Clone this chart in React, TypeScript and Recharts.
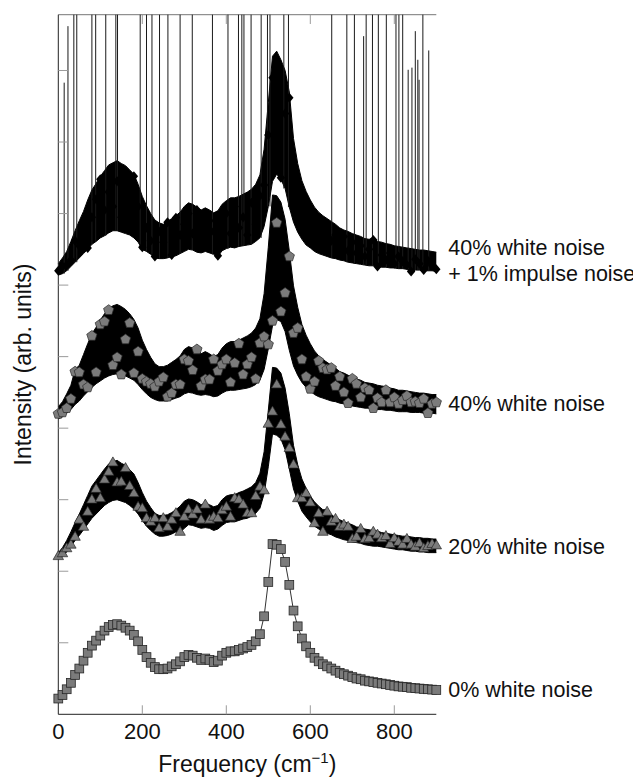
import React from "react";
import {
  ComposedChart,
  Area,
  Line,
  XAxis,
  YAxis,
  ReferenceLine,
  ReferenceDot,
} from "recharts";

// frequency grid (cm^-1)
const freq = [
  0, 10, 20, 30, 40, 50, 60, 70, 80, 90,
  100, 110, 120, 130, 140, 150, 160, 170, 180, 190,
  200, 210, 220, 230, 240, 250, 260, 270, 280, 290,
  300, 310, 320, 330, 340, 350, 360, 370, 380, 390,
  400, 410, 420, 430, 440, 450, 460, 470, 480, 490,
  500, 510, 520, 530, 540, 550, 560, 570, 580, 590,
  600, 610, 620, 630, 640, 650, 660, 670, 680, 690,
  700, 710, 720, 730, 740, 750, 760, 770, 780, 790,
  800, 810, 820, 830, 840, 850, 860, 870, 880, 890,
  900,
];

// 0% white noise spectrum
const clean = [
  0.22, 0.27, 0.35, 0.44, 0.55, 0.64, 0.75, 0.86, 0.96, 1.03,
  1.10, 1.17, 1.22, 1.25, 1.26, 1.24, 1.21, 1.17, 1.11, 1.02,
  0.90, 0.80, 0.72, 0.66, 0.63, 0.63, 0.64, 0.67, 0.70, 0.74,
  0.80, 0.83, 0.82, 0.79, 0.76, 0.78, 0.76, 0.73, 0.75, 0.82,
  0.86, 0.88, 0.88, 0.90, 0.92, 0.94, 0.97, 1.02, 1.12, 1.37,
  1.85, 2.38, 2.37, 2.31, 2.13, 1.81, 1.45, 1.23, 1.06, 0.95,
  0.86, 0.79, 0.74, 0.70, 0.67, 0.64, 0.61, 0.58, 0.56, 0.54,
  0.52, 0.50, 0.49, 0.47, 0.46, 0.45, 0.44, 0.43, 0.42, 0.41,
  0.40, 0.39, 0.385, 0.38, 0.37, 0.365, 0.36, 0.355, 0.35, 0.345,
  0.34,
];

// 20% white noise: envelope of the noisy trace and marked samples
const hi20 = [
  2.26, 2.33, 2.43, 2.55, 2.68, 2.80, 2.93, 3.06, 3.19, 3.27,
  3.35, 3.43, 3.50, 3.53, 3.55, 3.51, 3.48, 3.42, 3.36, 3.24,
  3.10, 2.98, 2.89, 2.81, 2.78, 2.78, 2.79, 2.82, 2.86, 2.91,
  2.98, 3.01, 3.00, 2.97, 2.93, 2.95, 2.93, 2.90, 2.92, 3.00,
  3.05, 3.07, 3.07, 3.10, 3.12, 3.15, 3.18, 3.24, 3.37, 3.67,
  4.25, 4.85, 4.84, 4.77, 4.56, 4.20, 3.76, 3.49, 3.29, 3.16,
  3.05, 2.97, 2.91, 2.86, 2.86, 2.79, 2.75, 2.72, 2.69, 2.67,
  2.65, 2.62, 2.61, 2.59, 2.58, 2.57, 2.56, 2.54, 2.53, 2.52,
  2.51, 2.50, 2.49, 2.49, 2.48, 2.47, 2.47, 2.46, 2.46, 2.45,
  2.45,
];
const lo20 = [
  2.19, 2.21, 2.27, 2.35, 2.43, 2.50, 2.58, 2.66, 2.74, 2.80,
  2.86, 2.92, 2.96, 2.99, 3.00, 2.98, 2.96, 2.92, 2.87, 2.80,
  2.71, 2.63, 2.57, 2.52, 2.49, 2.49, 2.50, 2.52, 2.55, 2.54,
  2.60, 2.65, 2.64, 2.62, 2.60, 2.61, 2.60, 2.57, 2.59, 2.64,
  2.68, 2.69, 2.69, 2.71, 2.73, 2.74, 2.77, 2.81, 2.88, 3.08,
  3.46, 3.92, 3.90, 3.85, 3.70, 3.43, 3.15, 2.98, 2.84, 2.76,
  2.69, 2.63, 2.59, 2.54, 2.53, 2.51, 2.48, 2.46, 2.44, 2.43,
  2.41, 2.40, 2.39, 2.37, 2.36, 2.35, 2.35, 2.34, 2.33, 2.32,
  2.31, 2.30, 2.30, 2.29, 2.28, 2.28, 2.27, 2.27, 2.26, 2.26,
  2.26,
];
const m20 = [
  2.21, 2.25, 2.32, 2.37, 2.48, 2.72, 2.62, 2.83, 3.00, 3.15,
  3.02, 3.28, 3.39, 3.52, 3.24, 3.25, 3.44, 3.19, 3.09, 2.90,
  2.88, 2.74, 2.69, 2.74, 2.60, 2.74, 2.62, 2.72, 2.81, 2.55,
  2.76, 2.86, 2.79, 2.86, 2.72, 2.93, 2.72, 2.76, 2.74, 2.85,
  2.90, 2.76, 3.02, 3.00, 2.93, 2.81, 2.81, 3.05, 3.18, 3.13,
  4.06, 4.23, 4.61, 4.05, 3.88, 3.72, 3.49, 3.02, 3.02, 3.09,
  2.96, 2.67, 2.81, 2.55, 2.83, 2.69, 2.73, 2.62, 2.65, 2.62,
  2.45, 2.48, 2.59, 2.45, 2.46, 2.55, 2.51, 2.46, 2.49, 2.38,
  2.46, 2.41, 2.37, 2.45, 2.37, 2.34, 2.39, 2.32, 2.35, 2.38,
  2.36,
];

// 40% white noise
const hi40 = [
  4.30, 4.37, 4.48, 4.60, 4.82, 4.88, 5.03, 5.18, 5.32, 5.41,
  5.51, 5.60, 5.67, 5.71, 5.73, 5.70, 5.66, 5.60, 5.52, 5.40,
  5.23, 5.10, 4.99, 4.90, 4.86, 4.86, 4.88, 4.92, 4.96, 5.01,
  5.10, 5.14, 5.12, 5.12, 5.04, 5.07, 5.04, 5.00, 5.03, 5.12,
  5.18, 5.21, 5.21, 5.23, 5.26, 5.29, 5.33, 5.40, 5.53, 5.88,
  6.53, 7.26, 7.25, 7.16, 6.92, 6.48, 5.99, 5.69, 5.45, 5.30,
  5.18, 5.08, 5.01, 4.96, 4.92, 4.88, 4.84, 4.79, 4.77, 4.74,
  4.71, 4.69, 4.67, 4.64, 4.63, 4.62, 4.60, 4.59, 4.58, 4.56,
  4.55, 4.53, 4.53, 4.52, 4.51, 4.50, 4.49, 4.49, 4.48, 4.47,
  4.47,
];
const lo40 = [
  4.13, 4.16, 4.21, 4.26, 4.33, 4.38, 4.45, 4.51, 4.57, 4.62,
  4.66, 4.70, 4.73, 4.75, 4.76, 4.74, 4.73, 4.70, 4.67, 4.61,
  4.54, 4.48, 4.43, 4.40, 4.38, 4.38, 4.38, 4.40, 4.42, 4.44,
  4.48, 4.50, 4.49, 4.47, 4.46, 4.47, 4.46, 4.44, 4.45, 4.49,
  4.52, 4.53, 4.53, 4.54, 4.55, 4.56, 4.58, 4.61, 4.67, 4.82,
  5.11, 5.43, 5.52, 5.49, 5.35, 5.09, 4.87, 4.74, 4.64, 4.57,
  4.52, 4.47, 4.44, 4.42, 4.40, 4.38, 4.37, 4.35, 4.34, 4.32,
  4.31, 4.30, 4.29, 4.28, 4.28, 4.27, 4.26, 4.26, 4.25, 4.25,
  4.24, 4.23, 4.23, 4.23, 4.22, 4.22, 4.22, 4.21, 4.21, 4.21,
  4.20,
];
const m40 = [
  4.20, 4.22, 4.28, 4.41, 4.79, 4.78, 4.61, 4.57, 5.29, 4.78,
  5.45, 5.49, 5.65, 4.88, 4.99, 4.75, 5.24, 5.47, 4.77, 5.07,
  4.69, 4.65, 4.62, 4.58, 4.65, 4.71, 4.44, 4.49, 4.61, 4.61,
  4.96, 4.94, 4.81, 5.10, 4.59, 4.68, 4.68, 4.96, 4.80, 4.89,
  4.96, 4.64, 4.91, 5.18, 4.75, 4.89, 4.99, 4.69, 5.19, 5.28,
  5.17, 5.50, 6.87, 5.63, 5.89, 6.40, 5.33, 5.40, 4.96, 4.72,
  4.55, 4.65, 4.94, 4.84, 4.82, 4.84, 4.59, 4.72, 4.50, 4.35,
  4.69, 4.62, 4.43, 4.56, 4.53, 4.28, 4.42, 4.36, 4.53, 4.36,
  4.43, 4.34, 4.39, 4.45, 4.36, 4.37, 4.35, 4.41, 4.21, 4.34,
  4.36,
];

// 40% white noise + 1% impulse noise
const hiImp = [
  6.30, 6.38, 6.47, 6.61, 6.76, 6.90, 7.03, 7.19, 7.33, 7.42,
  7.52, 7.60, 7.68, 7.71, 7.74, 7.70, 7.67, 7.61, 7.55, 7.41,
  7.24, 7.11, 7.00, 6.91, 6.87, 6.85, 6.89, 6.93, 6.97, 7.02,
  7.10, 7.15, 7.13, 7.09, 7.05, 7.08, 7.05, 7.01, 7.04, 7.13,
  7.18, 7.22, 7.22, 7.24, 7.27, 7.30, 7.34, 7.41, 7.54, 7.90,
  8.55, 9.20, 9.27, 9.15, 9.00, 8.70, 8.05, 7.70, 7.46, 7.31,
  7.19, 7.09, 7.02, 6.97, 6.93, 6.89, 6.85, 6.80, 6.77, 6.75,
  6.72, 6.70, 6.68, 6.65, 6.64, 6.66, 6.61, 6.60, 6.58, 6.57,
  6.55, 6.54, 6.53, 6.52, 6.51, 6.50, 6.49, 6.49, 6.48, 6.47,
  6.46,
];
const loImp = [
  6.14, 6.16, 6.20, 6.26, 6.32, 6.38, 6.44, 6.50, 6.57, 6.61,
  6.66, 6.69, 6.73, 6.76, 6.76, 6.74, 6.72, 6.70, 6.66, 6.60,
  6.50, 6.47, 6.43, 6.38, 6.37, 6.37, 6.38, 6.40, 6.41, 6.44,
  6.47, 6.50, 6.49, 6.46, 6.45, 6.47, 6.45, 6.43, 6.40, 6.48,
  6.51, 6.53, 6.52, 6.54, 6.55, 6.56, 6.57, 6.61, 6.66, 6.82,
  7.10, 7.45, 7.55, 7.48, 7.35, 7.09, 6.88, 6.74, 6.64, 6.56,
  6.52, 6.47, 6.44, 6.42, 6.40, 6.38, 6.37, 6.35, 6.34, 6.32,
  6.31, 6.30, 6.29, 6.28, 6.27, 6.27, 6.25, 6.25, 6.25, 6.24,
  6.24, 6.23, 6.23, 6.22, 6.18, 6.21, 6.21, 6.20, 6.20, 6.20,
  6.19,
];
const mImp = [
  6.20, 6.26, 6.28, 6.35, 6.62, 6.55, 6.70, 6.52, 6.95, 7.20,
  7.48, 7.05, 7.30, 7.10, 7.45, 6.95, 7.25, 7.00, 7.52, 7.10,
  6.53, 6.80, 6.62, 6.40, 6.75, 6.60, 6.88, 6.42, 6.94, 6.70,
  6.85, 7.00, 6.72, 7.05, 6.80, 6.62, 6.90, 6.75, 6.41, 6.85,
  7.00, 6.72, 7.10, 6.80, 6.95, 6.70, 7.15, 6.85, 7.25, 7.40,
  8.10, 8.90, 8.30, 7.50, 8.40, 8.62, 7.60, 7.25, 7.10, 6.85,
  6.95, 6.72, 6.88, 6.60, 6.80, 6.62, 6.70, 6.55, 6.68, 6.48,
  6.60, 6.45, 6.55, 6.40, 6.50, 6.63, 6.26, 6.42, 6.35, 6.45,
  6.30, 6.40, 6.33, 6.28, 6.19, 6.36, 6.30, 6.21, 6.34, 6.27,
  6.22,
];

// impulse spikes: position and height they reach (Y_MAX = off the top)
const Y_MAX = 9.78;
const impulseFreq = [
  14, 23, 37, 44, 80, 89, 113, 137, 141, 195, 210, 223, 241, 261, 290,
  319, 367, 404, 429, 437, 442, 459, 483, 498, 504, 537, 548, 651, 687,
  705, 727, 733, 748, 762, 781, 804, 811, 820, 833, 842, 850, 856, 859,
  868, 882,
];
const impulseTop = [
  8.83, 9.62, Y_MAX, Y_MAX, Y_MAX, Y_MAX, Y_MAX, Y_MAX, Y_MAX, Y_MAX, Y_MAX,
  Y_MAX, Y_MAX, Y_MAX, Y_MAX, Y_MAX, Y_MAX, Y_MAX, Y_MAX, Y_MAX, Y_MAX,
  Y_MAX, Y_MAX, Y_MAX, Y_MAX, Y_MAX, Y_MAX, Y_MAX, Y_MAX, Y_MAX, 9.48,
  Y_MAX, Y_MAX, Y_MAX, Y_MAX, Y_MAX, Y_MAX, Y_MAX, 9.01, 9.04, 9.55, 9.15,
  8.87, Y_MAX, 9.28,
];

const xTicks = [0, 200, 400, 600, 800];
const yTicks = [1, 2, 3, 4, 5, 6, 7, 8, 9];

// vertical offsets of the stacked traces, used to place the right-hand labels
const traceOffsets = [0, 2, 4, 6];
const traceLabels = [
  ["0% white noise"],
  ["20% white noise"],
  ["40% white noise"],
  ["40% white noise", "+ 1% impulse noise"],
];

const FONT = '"Liberation Sans", Arial, Helvetica, sans-serif';
const TICK_COLOR = "#9a9a9a";
const MARK_FILL = "#7b7b7b";
const MARK_EDGE = "#262626";
const Y_AXIS_W = 50;
const CHART_W = 641;
const CHART_H = 770;

const rows = freq.map((f, i) => ({
  f,
  clean: clean[i],
  band20: [lo20[i], hi20[i]],
  band40: [lo40[i], hi40[i]],
  bandImp: [loImp[i], hiImp[i]],
  m20: m20[i],
  m40: m40[i],
  mImp: mImp[i],
}));

const squareDot = (p: any) => (
  <rect
    key={`sq-${p.index}`}
    x={p.cx - 4.4}
    y={p.cy - 4.4}
    width={8.8}
    height={8.8}
    fill={MARK_FILL}
    stroke={MARK_EDGE}
    strokeWidth={0.8}
  />
);

const triangleDot = (p: any) => (
  <path
    key={`tr-${p.index}`}
    d={`M${p.cx},${p.cy - 5.6}L${p.cx + 5.2},${p.cy + 3.4}L${p.cx - 5.2},${p.cy + 3.4}Z`}
    fill={MARK_FILL}
    stroke={MARK_EDGE}
    strokeWidth={0.7}
  />
);

const pentagonDot = (p: any) => {
  const pts = [0, 1, 2, 3, 4]
    .map((k) => {
      const a = ((-90 + k * 72) * Math.PI) / 180;
      return `${p.cx + 5.4 * Math.cos(a)},${p.cy + 5.4 * Math.sin(a)}`;
    })
    .join(" ");
  return (
    <polygon
      key={`pe-${p.index}`}
      points={pts}
      fill={MARK_FILL}
      stroke={MARK_EDGE}
      strokeWidth={0.7}
    />
  );
};

const diamondDot = (p: any) => (
  <path
    key={`di-${p.index}`}
    d={`M${p.cx},${p.cy - 5}L${p.cx + 4.2},${p.cy}L${p.cx},${p.cy + 5}L${p.cx - 4.2},${p.cy}Z`}
    fill="#000"
  />
);

const XTick = (props: any) => {
  const { x, y, payload } = props;
  return (
    <g>
      {payload.value !== 0 && (
        <line x1={x} x2={x} y1={y} y2={y - 9} stroke={TICK_COLOR} />
      )}
      <text
        x={x}
        y={y + 25}
        textAnchor="middle"
        fontFamily={FONT}
        fontSize={22}
        fill="#111"
      >
        {payload.value}
      </text>
    </g>
  );
};

const YTick = (props: any) => (
  <line
    x1={props.x}
    x2={props.x + 10}
    y1={props.y}
    y2={props.y}
    stroke={TICK_COLOR}
  />
);

const xTitle = (props: any) => {
  const { x, y, width } = props.viewBox;
  return (
    <text
      x={x + width / 2}
      y={y + 58}
      textAnchor="middle"
      fontFamily={FONT}
      fontSize={23}
      fill="#111"
    >
      Frequency (cm
      <tspan dy={-9} fontSize={15}>
        −1
      </tspan>
      <tspan dy={9}>)</tspan>
    </text>
  );
};

const yTitle = (props: any) => {
  const { x, y, width, height } = props.viewBox;
  const cx = x + width - 35;
  const cy = y + height / 2;
  return (
    <text
      x={cx}
      y={cy}
      transform={`rotate(-90 ${cx} ${cy})`}
      textAnchor="middle"
      dominantBaseline="central"
      fontFamily={FONT}
      fontSize={23}
      fill="#111"
    >
      Intensity (arb. units)
    </text>
  );
};

const traceLabel = (lines: string[]) => (props: any) => {
  const { x, y } = props.viewBox;
  const baselines = lines.length === 1 ? [y + 7.5] : [y - 6, y + 20];
  return (
    <g>
      {lines.map((t, i) => (
        <text
          key={t}
          x={x + 12}
          y={baselines[i]}
          fontFamily={FONT}
          fontSize={21.5}
          fill="#111"
        >
          {t}
        </text>
      ))}
    </g>
  );
};

export default function App() {
  const last = clean.length - 1;
  // chart spans the full page width; the plot frame sits at x = 58.3 .. 436.3
  return (
    <div style={{ marginLeft: -8, width: CHART_W }}>
      <ComposedChart
        width={CHART_W}
        height={CHART_H}
        data={rows}
        margin={{ top: 6.7, right: 204.7, bottom: 33.7, left: 58.3 - Y_AXIS_W }}
      >
        <XAxis
          dataKey="f"
          type="number"
          domain={[0, 900]}
          ticks={xTicks}
          interval={0}
          height={30}
          tickSize={0}
          tickMargin={0}
          tick={XTick}
          tickLine={false}
          axisLine={{ stroke: "#222" }}
          label={xTitle}
        />
        <YAxis
          type="number"
          domain={[0, Y_MAX]}
          ticks={yTicks}
          interval={0}
          width={Y_AXIS_W}
          tickSize={0}
          tickMargin={0}
          tick={YTick}
          tickLine={false}
          axisLine={{ stroke: "#222" }}
          label={yTitle}
        />

        {/* top frame and its inward ticks */}
        <ReferenceLine y={Y_MAX} stroke="#777" ifOverflow="visible" />
        {xTicks
          .filter((t) => t > 0)
          .map((t) => (
            <ReferenceLine
              key={`top-${t}`}
              segment={[
                { x: t, y: Y_MAX },
                { x: t, y: Y_MAX - 0.13 },
              ]}
              stroke={TICK_COLOR}
              ifOverflow="visible"
            />
          ))}

        {/* impulse spikes rising out of the top trace */}
        {impulseFreq.map((f, i) => (
          <ReferenceLine
            key={`imp-${f}`}
            segment={[
              { x: f, y: loImp[Math.round(f / 10)] },
              { x: f, y: impulseTop[i] },
            ]}
            stroke="#1a1a1a"
            strokeWidth={1}
            ifOverflow="visible"
          />
        ))}

        <Area
          dataKey="bandImp"
          type="linear"
          stroke="#000"
          strokeWidth={1}
          fill="#000"
          fillOpacity={1}
          dot={false}
          activeDot={false}
          isAnimationActive={false}
        />
        <Line
          dataKey="mImp"
          stroke="none"
          dot={diamondDot}
          activeDot={false}
          isAnimationActive={false}
        />

        <Area
          dataKey="band40"
          type="linear"
          stroke="#000"
          strokeWidth={1}
          fill="#000"
          fillOpacity={1}
          dot={false}
          activeDot={false}
          isAnimationActive={false}
        />
        <Line
          dataKey="m40"
          stroke="none"
          dot={pentagonDot}
          activeDot={false}
          isAnimationActive={false}
        />

        <Area
          dataKey="band20"
          type="linear"
          stroke="#000"
          strokeWidth={1}
          fill="#000"
          fillOpacity={1}
          dot={false}
          activeDot={false}
          isAnimationActive={false}
        />
        <Line
          dataKey="m20"
          stroke="none"
          dot={triangleDot}
          activeDot={false}
          isAnimationActive={false}
        />

        <Line
          dataKey="clean"
          type="linear"
          stroke="#333"
          strokeWidth={1}
          dot={squareDot}
          activeDot={false}
          isAnimationActive={false}
        />

        {traceLabels.map((lines, i) => (
          <ReferenceDot
            key={lines[0] + i}
            x={900}
            y={clean[last] + traceOffsets[i]}
            r={0}
            fill="none"
            stroke="none"
            ifOverflow="visible"
            label={traceLabel(lines)}
          />
        ))}
      </ComposedChart>
    </div>
  );
}
